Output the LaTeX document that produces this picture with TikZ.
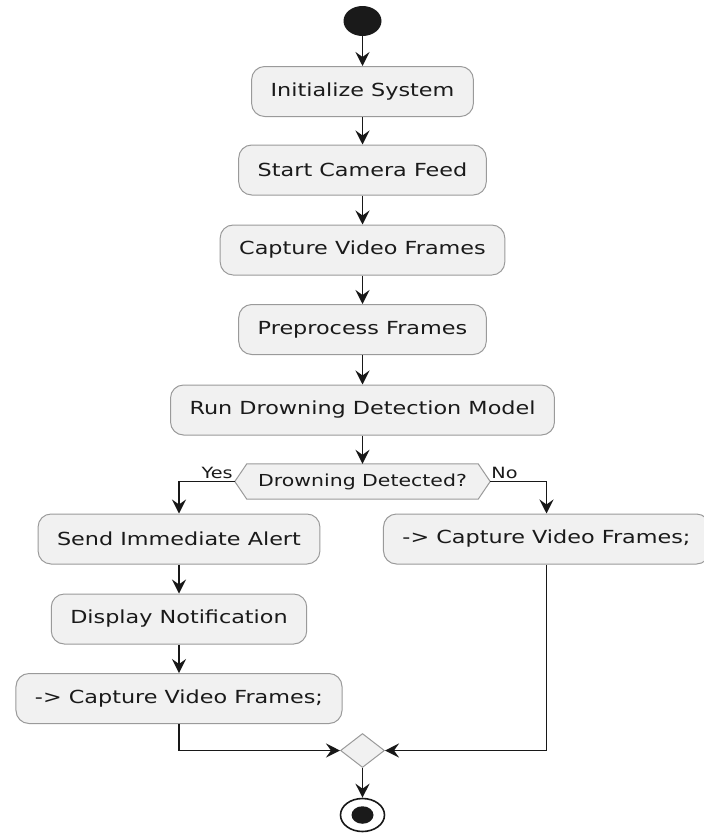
\documentclass[tikz,border=0pt]{standalone}
\usepackage{fontspec}
\setmainfont{DejaVu Sans}[FakeStretch=1.24]
\usetikzlibrary{arrows.meta,shapes.geometric,backgrounds}
\definecolor{boxfill}{HTML}{F1F1F1}
\definecolor{boxline}{HTML}{9A9A9A}
\definecolor{ink}{HTML}{181818}
\definecolor{txt}{HTML}{1A1A1A}
\begin{document}
\begin{tikzpicture}[x=1pt,y=-1pt,
 act/.style={draw=boxline, line width=1pt, fill=boxfill, rounded corners=13pt, minimum height=50pt, inner xsep=19pt, inner ysep=0pt, text=txt, font=\fontsize{18}{22}\selectfont},
 flow/.style={draw=ink, line width=1.6pt, -{Stealth[length=14pt,width=14pt,inset=5pt]}},
 lbl/.style={inner sep=0pt, text=txt, font=\fontsize{15.5}{18}\selectfont},
 dot/.style={ellipse, fill=txt, inner sep=0pt}]
\useasboundingbox (0,0) rectangle (704,833);

\node[dot, minimum width=38pt, minimum height=30pt] (start) at (362.5,21) {};
\node[act] (init) at (362.5,91.5) {Initialize System};
\node[act] (cam) at (362.5,170) {Start Camera Feed};
\node[act] (cap) at (362.5,250) {Capture Video Frames};
\node[act] (pre) at (362.5,329.5) {Preprocess Frames};
\node[act] (run) at (362.5,410) {Run Drowning Detection Model};
\node[inner sep=0pt, minimum width=255pt, minimum height=35pt, text=txt, font=\fontsize{16.5}{20}\selectfont] (dec) at (362.5,481.5) {Drowning Detected?};
\begin{scope}[on background layer]
\draw[draw=boxline, fill=boxfill, line width=1pt] (dec.west) -- ([xshift=12pt]dec.north west) -- ([xshift=-12pt]dec.north east) -- (dec.east) -- ([xshift=-12pt]dec.south east) -- ([xshift=12pt]dec.south west) -- cycle;
\end{scope}
\node[lbl, anchor=base east] (yes) at ([xshift=-2pt,yshift=3pt]dec.west) {Yes};
\node[lbl, anchor=base west] (no) at ([xshift=1pt,yshift=3pt]dec.east) {No};

\node[act] (send) at (179,539) {Send Immediate Alert};
\node[act] (noc) at (546.5,539) {-> Capture Video Frames;};
\node[act] (disp) at (179,619) {Display Notification};
\node[act] (yesc) at (179,698.5) {-> Capture Video Frames;};
\node[diamond, draw=boxline, fill=boxfill, line width=1pt, minimum width=44pt, minimum height=34pt, inner sep=0pt] (merge) at (362.5,750.5) {};
\node[ellipse, draw=ink, line width=1.6pt, fill=white, minimum width=44pt, minimum height=33pt, inner sep=0pt] (stop) at (362.5,815) {};
\node[dot, minimum width=22pt, minimum height=17.5pt] (stopin) at (stop.center) {};

\draw[flow] (start) -- (init);
\draw[flow] (init) -- (cam);
\draw[flow] (cam) -- (cap);
\draw[flow] (cap) -- (pre);
\draw[flow] (pre) -- (run);
\draw[flow] (run) -- (dec.north);
\draw[flow] (dec.west) -| (send.north);
\draw[flow] (dec.east) -| (noc.north);
\draw[flow] (send) -- (disp);
\draw[flow] (disp) -- (yesc);
\draw[flow] (yesc.south) |- (merge.west);
\draw[flow] (noc.south) |- (merge.east);
\draw[flow] (merge) -- (stop);
\end{tikzpicture}
\end{document}
